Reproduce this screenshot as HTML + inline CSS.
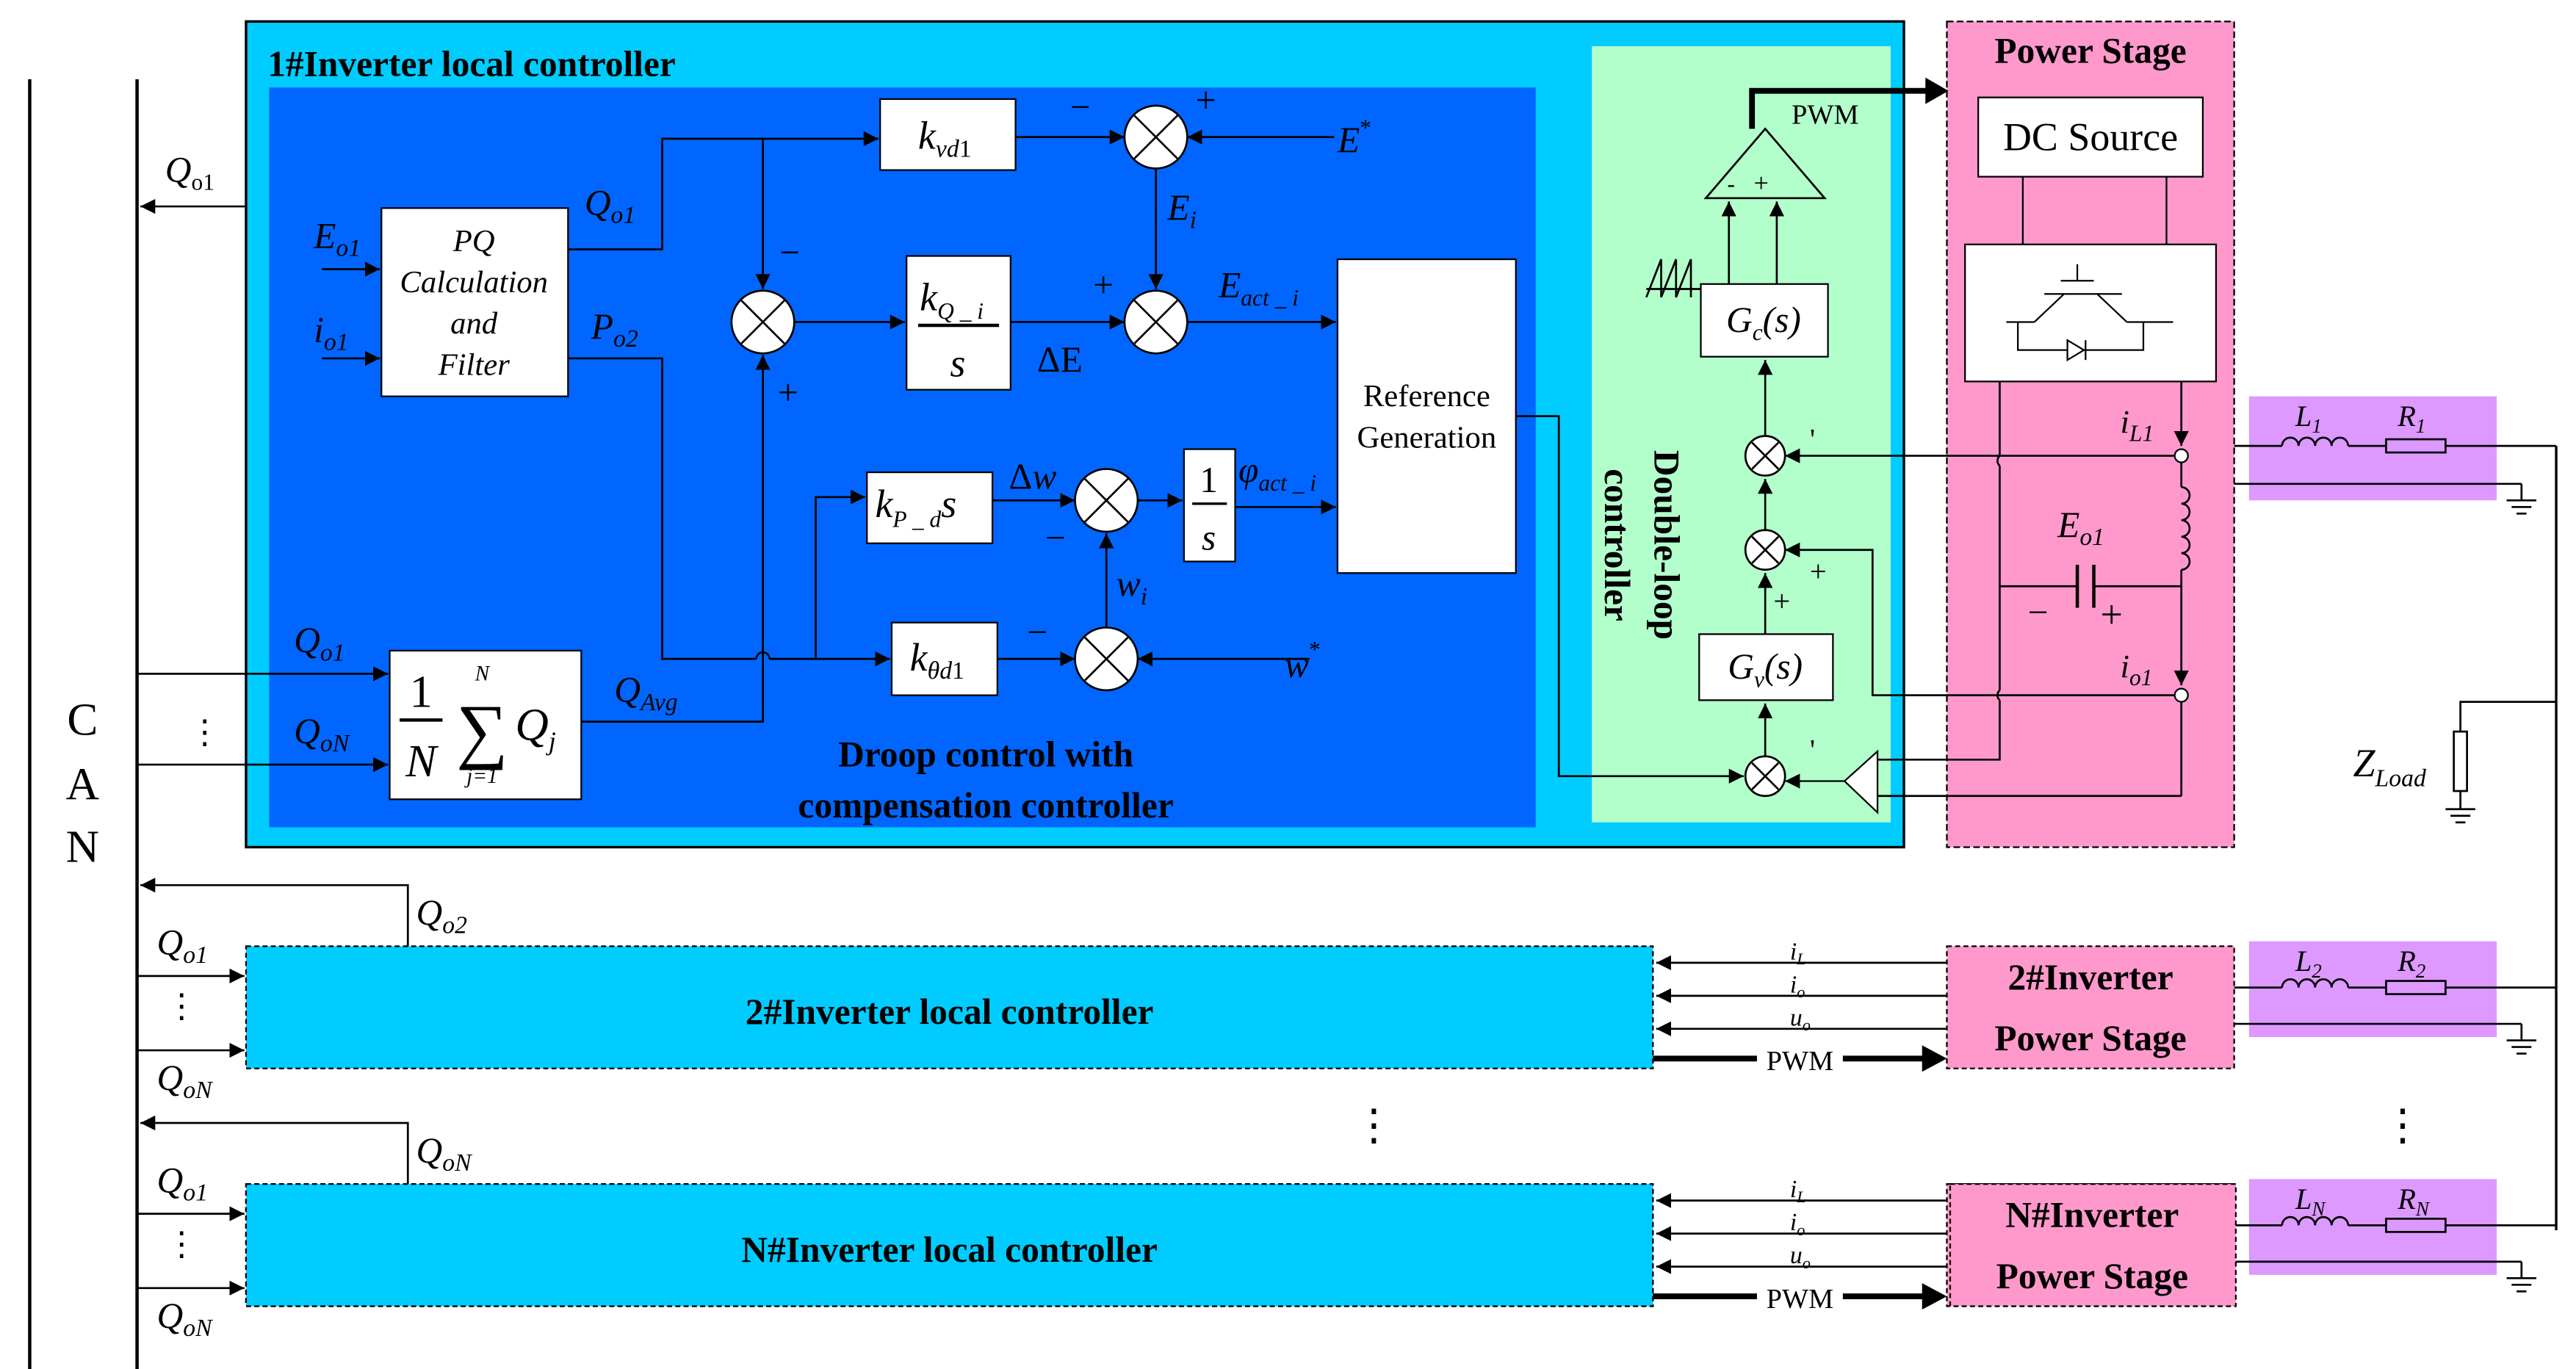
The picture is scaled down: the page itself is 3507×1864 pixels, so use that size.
<!DOCTYPE html>
<html><head><meta charset="utf-8"><style>
html,body{margin:0;padding:0;background:#fff;}
svg{display:block;}
text{font-family:"Liberation Serif",serif;fill:#000;}
.it{font-style:italic;}
.b{font-weight:bold;}
</style></head><body>
<svg width="3507" height="1864" viewBox="0 0 1560 829" preserveAspectRatio="none" xmlns="http://www.w3.org/2000/svg">
<defs>
<marker id="a" viewBox="0 0 10 10" refX="10" refY="5" markerWidth="9" markerHeight="9" markerUnits="userSpaceOnUse" orient="auto"><path d="M0,0 L10,5 L0,10 z" fill="#000"/></marker>
<marker id="ab" viewBox="0 0 10 10" refX="10" refY="5" markerWidth="6" markerHeight="6" orient="auto"><path d="M0,0 L10,5 L0,10 z" fill="#000"/></marker>
</defs>
<!-- CAN -->
<line x1="18" y1="48" x2="18" y2="829" stroke="#000" stroke-width="2"/>
<line x1="83" y1="48" x2="83" y2="829" stroke="#000" stroke-width="2"/>
<text x="50" y="445" font-size="28" text-anchor="middle">C</text>
<text x="50" y="484" font-size="28" text-anchor="middle">A</text>
<text x="50" y="522" font-size="28" text-anchor="middle">N</text>

<!-- Box 1 -->
<rect x="149" y="13" width="1004" height="500" fill="#00CCFF" stroke="#000" stroke-width="1.5"/>
<text x="162" y="46" font-size="22" class="b">1#Inverter local controller</text>
<rect x="163" y="53" width="767" height="448" fill="#0066FF"/>
<rect x="964" y="28" width="181" height="470" fill="#B3FFCC"/>
<!-- Power stage -->
<rect x="1179" y="13" width="174" height="500" fill="#FF99CC" stroke="#000" stroke-width="1" stroke-dasharray="4,2"/>
<text x="1266" y="38" font-size="22" class="b" text-anchor="middle">Power Stage</text>
<rect x="1198" y="59" width="136" height="48" fill="#fff" stroke="#000"/>
<text x="1266" y="91" font-size="24" text-anchor="middle">DC Source</text>
<line x1="1225" y1="107" x2="1225" y2="148" stroke="#000"/>
<line x1="1312" y1="107" x2="1312" y2="148" stroke="#000"/>
<rect x="1190" y="148" width="152" height="83" fill="#fff" stroke="#000"/>
<g stroke="#000" fill="none">
<line x1="1258" y1="160" x2="1258" y2="170"/><line x1="1248" y1="170" x2="1268" y2="170"/>
<line x1="1238" y1="178" x2="1285" y2="178"/>
<line x1="1250" y1="178" x2="1232" y2="195"/><line x1="1270" y1="178" x2="1288" y2="195"/>
<line x1="1215" y1="195" x2="1232" y2="195"/><line x1="1288" y1="195" x2="1316" y2="195"/>
<polyline points="1222,195 1222,212 1298,212 1298,195"/>
<path d="M1252,206 L1262,212 L1252,218 z" fill="#fff"/><line x1="1263" y1="206" x2="1263" y2="218"/>
</g>
<g stroke="#000" fill="none" stroke-width="1.2">
<polyline points="1211,231 1211,276"/>
<path d="M1211,276 a4,4 0 0 0 0,6"/>
<polyline points="1211,282 1211,418"/>
<path d="M1211,418 a4,4 0 0 0 0,6"/>
<polyline points="1211,424 1211,460 1137,460"/>
<line x1="1321" y1="231" x2="1321" y2="270" marker-end="url(#a)"/>
<line x1="1321" y1="280" x2="1321" y2="295"/>
<path d="M1321,295 a5,5 0 0 1 0,10 a5,5 0 0 1 0,10 a5,5 0 0 1 0,10 a5,5 0 0 1 0,10 a5,5 0 0 1 0,10"/>
<line x1="1321" y1="345" x2="1321" y2="415" marker-end="url(#a)"/>
<line x1="1321" y1="425" x2="1321" y2="482"/>
<line x1="1321" y1="482" x2="1137" y2="482"/>
<line x1="1211" y1="355" x2="1258" y2="355"/><line x1="1268" y1="355" x2="1321" y2="355"/>
<line x1="1258" y1="342" x2="1258" y2="368" stroke-width="2"/><line x1="1268" y1="342" x2="1268" y2="368" stroke-width="2"/>
<line x1="1317" y1="276" x2="1081" y2="276" marker-end="url(#a)"/>
<polyline points="1317,421 1134,421 1134,333 1081,333" marker-end="url(#a)"/>
</g>
<circle cx="1321" cy="276" r="4" fill="#fff" stroke="#000"/>
<circle cx="1321" cy="421" r="4" fill="#fff" stroke="#000"/>
<text x="1284" y="262" font-size="20" class="it">i<tspan font-size="14" dy="5">L1</tspan></text>
<text x="1284" y="410" font-size="20" class="it">i<tspan font-size="14" dy="5">o1</tspan></text>
<text x="1246" y="325" font-size="22" class="it">E<tspan font-size="15" dy="5">o1</tspan></text>
<text x="1228" y="378" font-size="22">−</text><text x="1272" y="380" font-size="24">+</text>
<!-- buffer triangle -->
<path d="M1137,455 L1137,492 L1117,473 z" fill="#fff" stroke="#000"/>
<line x1="1117" y1="473" x2="1081" y2="473" stroke="#000" marker-end="url(#a)"/>

<!-- purple 1 -->
<rect x="1362" y="240" width="150" height="63" fill="#DD99FF"/>
<g stroke="#000" fill="none" stroke-width="1.2">
<line x1="1353" y1="270" x2="1382" y2="270"/>
<path d="M1382,270 a5,5 0 0 1 10,0 a5,5 0 0 1 10,0 a5,5 0 0 1 10,0 a5,5 0 0 1 10,0"/>
<line x1="1422" y1="270" x2="1445" y2="270"/>
<rect x="1445" y="266" width="36" height="8" fill="none"/>
<line x1="1481" y1="270" x2="1548" y2="270"/>
<line x1="1353" y1="293" x2="1527" y2="293"/><line x1="1527" y1="293" x2="1527" y2="303"/>
<line x1="1518" y1="303" x2="1536" y2="303"/><line x1="1521" y1="307" x2="1533" y2="307"/><line x1="1524" y1="311" x2="1530" y2="311"/>
<line x1="1548" y1="270" x2="1548" y2="745" stroke-width="1.5"/>
<polyline points="1548,425 1490,425 1490,443"/>
<rect x="1486" y="443" width="8" height="36"/>
<line x1="1490" y1="479" x2="1490" y2="490"/>
<line x1="1481" y1="490" x2="1499" y2="490"/><line x1="1484" y1="494" x2="1496" y2="494"/><line x1="1487" y1="498" x2="1493" y2="498"/>
</g>
<text x="1390" y="258" font-size="18" class="it">L<tspan font-size="12" dy="4">1</tspan></text>
<text x="1452" y="258" font-size="18" class="it">R<tspan font-size="12" dy="4">1</tspan></text>
<text x="1425" y="470" font-size="24" class="it">Z<tspan font-size="15" dy="6">Load</tspan></text>

<!-- green internals -->
<g stroke="#000" fill="none" stroke-width="1.2">
<path d="M1069,78 L1105,120 L1033,120 z" fill="#B3FFCC"/>
<polyline points="997,175 1047,175 1047,122" marker-end="url(#a)"/>
<polyline points="997,180 1006,157 1006,180 1015,157 1015,180 1024,157 1024,180"/>
<line x1="1076" y1="172" x2="1076" y2="122" marker-end="url(#a)"/>
<line x1="1069" y1="264" x2="1069" y2="218" marker-end="url(#a)"/>
<line x1="1069" y1="321" x2="1069" y2="290" marker-end="url(#a)"/>
<line x1="1069" y1="384" x2="1069" y2="347" marker-end="url(#a)"/>
<line x1="1069" y1="458" x2="1069" y2="426" marker-end="url(#a)"/>
</g>
<polyline points="1061,78 1061,55 1170,55" fill="none" stroke="#000" stroke-width="3.5"/>
<path d="M1166,47 L1180,55 L1166,63 z" fill="#000"/>
<text x="1085" y="75" font-size="17">PWM</text>
<text x="1046" y="116" font-size="14">-</text><text x="1062" y="116" font-size="16">+</text>
<rect x="1030" y="172" width="77" height="44" fill="#fff" stroke="#000"/>
<text x="1068" y="201" font-size="22" class="it" text-anchor="middle">G<tspan font-size="14" dy="5">c</tspan><tspan dy="-5">(s)</tspan></text>
<rect x="1029" y="384" width="81" height="40" fill="#fff" stroke="#000"/>
<text x="1069" y="411" font-size="22" class="it" text-anchor="middle">G<tspan font-size="14" dy="5">v</tspan><tspan dy="-5">(s)</tspan></text>
<g fill="#fff" stroke="#000" stroke-width="1.2">
<circle cx="1069" cy="276" r="12"/><circle cx="1069" cy="333" r="12"/><circle cx="1069" cy="470" r="12"/>
</g>
<g stroke="#000" stroke-width="1.2">
<path d="M1061,268 l16,16 M1077,268 l-16,16"/><path d="M1061,325 l16,16 M1077,325 l-16,16"/><path d="M1061,462 l16,16 M1077,462 l-16,16"/>
</g>
<text x="1096" y="272" font-size="18">'</text><text x="1096" y="460" font-size="18">'</text>
<text x="1096" y="352" font-size="18">+</text><text x="1074" y="370" font-size="18">+</text>
<text transform="translate(1002,330) rotate(90)" font-size="22" class="b" text-anchor="middle">Double-loop</text>
<text transform="translate(972,330) rotate(90)" font-size="22" class="b" text-anchor="middle">controller</text>

<!-- blue internals -->
<g stroke="#000" fill="none" stroke-width="1.2">
<line x1="149" y1="125" x2="85" y2="125" marker-end="url(#a)"/>
<line x1="195" y1="163" x2="230" y2="163" marker-end="url(#a)"/>
<line x1="195" y1="217" x2="230" y2="217" marker-end="url(#a)"/>
<polyline points="344,151 401,151 401,84 532,84" marker-end="url(#a)"/>
<line x1="462" y1="84" x2="462" y2="175" marker-end="url(#a)"/>
<line x1="481" y1="195" x2="548" y2="195" marker-end="url(#a)"/>
<line x1="612" y1="195" x2="681" y2="195" marker-end="url(#a)"/>
<line x1="615" y1="83" x2="681" y2="83" marker-end="url(#a)"/>
<line x1="808" y1="83" x2="719" y2="83" marker-end="url(#a)"/>
<line x1="700" y1="102" x2="700" y2="175" marker-end="url(#a)"/>
<line x1="719" y1="195" x2="809" y2="195" marker-end="url(#a)"/>
<polyline points="918,252 944,252 944,470 1056,470" marker-end="url(#a)"/>
<polyline points="344,217 401,217 401,399 458,399"/>
<path d="M458,399 a4,4 0 0 1 8,0"/>
<line x1="466" y1="399" x2="539" y2="399" marker-end="url(#a)"/>
<polyline points="494,399 494,301 524,301" marker-end="url(#a)"/>
<line x1="601" y1="303" x2="651" y2="303" marker-end="url(#a)"/>
<line x1="689" y1="303" x2="716" y2="303" marker-end="url(#a)"/>
<line x1="748" y1="307" x2="809" y2="307" marker-end="url(#a)"/>
<line x1="604" y1="399" x2="651" y2="399" marker-end="url(#a)"/>
<line x1="793" y1="399" x2="689" y2="399" marker-end="url(#a)"/>
<line x1="670" y1="380" x2="670" y2="323" marker-end="url(#a)"/>
<line x1="83" y1="408" x2="235" y2="408" marker-end="url(#a)"/>
<line x1="83" y1="463" x2="235" y2="463" marker-end="url(#a)"/>
<polyline points="352,437 462,437 462,215" marker-end="url(#a)"/>
</g>
<rect x="231" y="126" width="113" height="114" fill="#fff" stroke="#000"/>
<g font-size="19" class="it" text-anchor="middle">
<text x="287" y="152">PQ</text><text x="287" y="177">Calculation</text><text x="287" y="202">and</text><text x="287" y="227">Filter</text>
</g>
<rect x="533" y="60" width="82" height="43" fill="#fff" stroke="#000"/>
<text x="556" y="90" font-size="24" class="it">k<tspan font-size="15" dy="5">vd</tspan><tspan font-size="15" font-style="normal">1</tspan></text>
<rect x="549" y="155" width="63" height="81" fill="#fff" stroke="#000"/>
<text x="557" y="188" font-size="24" class="it">k<tspan font-size="14" dy="5">Q _ i</tspan></text>
<line x1="556" y1="197" x2="605" y2="197" stroke="#000" stroke-width="2"/>
<text x="580" y="228" font-size="24" class="it" text-anchor="middle">s</text>
<rect x="810" y="157" width="108" height="190" fill="#fff" stroke="#000"/>
<text x="864" y="246" font-size="19" text-anchor="middle">Reference</text>
<text x="864" y="271" font-size="19" text-anchor="middle">Generation</text>
<rect x="525" y="286" width="76" height="43" fill="#fff" stroke="#000"/>
<text x="530" y="313" font-size="24" class="it">k<tspan font-size="14" dy="6">P _ d</tspan><tspan dy="-6">s</tspan></text>
<rect x="717" y="272" width="31" height="68" fill="#fff" stroke="#000"/>
<text x="732" y="298" font-size="22" text-anchor="middle">1</text>
<line x1="722" y1="305" x2="743" y2="305" stroke="#000" stroke-width="1.5"/>
<text x="732" y="333" font-size="22" class="it" text-anchor="middle">s</text>
<rect x="540" y="377" width="64" height="44" fill="#fff" stroke="#000"/>
<text x="551" y="406" font-size="24" class="it">k<tspan font-size="15" dy="5">θd</tspan><tspan font-size="15" font-style="normal">1</tspan></text>
<rect x="236" y="394" width="116" height="90" fill="#fff" stroke="#000"/>
<text x="255" y="428" font-size="28" text-anchor="middle">1</text>
<line x1="242" y1="436" x2="268" y2="436" stroke="#000" stroke-width="2"/>
<text x="255" y="470" font-size="28" class="it" text-anchor="middle">N</text>
<text x="292" y="457" font-size="44" text-anchor="middle">∑</text>
<text x="292" y="412" font-size="13" class="it" text-anchor="middle">N</text>
<text x="292" y="474" font-size="13" class="it" text-anchor="middle">j=1</text>
<text x="312" y="448" font-size="28" class="it">Q<tspan font-size="16" dy="6">j</tspan></text>
<g fill="#fff" stroke="#000" stroke-width="1.2">
<circle cx="462" cy="195" r="19"/><circle cx="700" cy="83" r="19"/><circle cx="700" cy="195" r="19"/>
<circle cx="670" cy="303" r="19"/><circle cx="670" cy="399" r="19"/>
</g>
<g stroke="#000" stroke-width="1.2">
<path d="M449,182 l26,26 M475,182 l-26,26"/><path d="M687,70 l26,26 M713,70 l-26,26"/><path d="M687,182 l26,26 M713,182 l-26,26"/>
<path d="M657,290 l26,26 M683,290 l-26,26"/><path d="M657,386 l26,26 M683,386 l-26,26"/>
</g>
<g font-size="22">
<text x="472" y="160">−</text><text x="471" y="245">+</text><text x="648" y="72">−</text><text x="724" y="68">+</text>
<text x="662" y="180">+</text><text x="633" y="333">−</text><text x="622" y="390">−</text>
</g>
<g font-size="22" class="it">
<text x="100" y="110">Q<tspan font-size="14" dy="5" font-style="normal">o</tspan><tspan font-size="14" font-style="normal">1</tspan></text>
<text x="190" y="150">E<tspan font-size="15" dy="5">o1</tspan></text>
<text x="190" y="207">i<tspan font-size="15" dy="5">o1</tspan></text>
<text x="354" y="130">Q<tspan font-size="15" dy="5">o1</tspan></text>
<text x="358" y="205">P<tspan font-size="15" dy="5">o2</tspan></text>
<text x="810" y="92">E<tspan font-size="14" dy="-10" font-style="normal">*</tspan></text>
<text x="707" y="133">E<tspan font-size="15" dy="5">i</tspan></text>
<text x="738" y="180">E<tspan font-size="14" dy="5">act _ i</tspan></text>
<text x="628" y="225" font-style="normal">ΔE</text>
<text x="611" y="296" font-style="normal">Δ<tspan font-style="italic">w</tspan></text>
<text x="750" y="292">φ<tspan font-size="14" dy="5">act _ i</tspan></text>
<text x="676" y="361">w<tspan font-size="15" dy="5">i</tspan></text>
<text x="778" y="410">w<tspan font-size="14" dy="-12" font-style="normal">*</tspan></text>
<text x="178" y="395">Q<tspan font-size="15" dy="5">o1</tspan></text>
<text x="178" y="450">Q<tspan font-size="15" dy="5">oN</tspan></text>
<text x="372" y="425">Q<tspan font-size="15" dy="5">Avg</tspan></text>
</g>
<text x="124" y="450" font-size="20" text-anchor="middle">⋮</text>
<text x="597" y="464" font-size="22" class="b" text-anchor="middle">Droop control with</text>
<text x="597" y="495" font-size="22" class="b" text-anchor="middle">compensation controller</text>

<!-- rows 2 and N -->
<g id="row">
<rect x="149" y="573" width="852" height="74" fill="#00CCFF" stroke="#000" stroke-width="1" stroke-dasharray="3,2"/>
<rect x="1179" y="573" width="174" height="74" fill="#FF99CC" stroke="#000" stroke-width="1" stroke-dasharray="3,2"/>
<rect x="1362" y="570" width="150" height="58" fill="#DD99FF"/>
<g stroke="#000" fill="none" stroke-width="1.2">
<line x1="1179" y1="583" x2="1003" y2="583" marker-end="url(#a)"/>
<line x1="1179" y1="603" x2="1003" y2="603" marker-end="url(#a)"/>
<line x1="1179" y1="623" x2="1003" y2="623" marker-end="url(#a)"/>
<polyline points="247,573 247,536 85,536" marker-end="url(#a)"/>
<line x1="83" y1="591" x2="148" y2="591" marker-end="url(#a)"/>
<line x1="83" y1="636" x2="148" y2="636" marker-end="url(#a)"/>
<line x1="1353" y1="598" x2="1382" y2="598"/>
<path d="M1382,598 a5,5 0 0 1 10,0 a5,5 0 0 1 10,0 a5,5 0 0 1 10,0 a5,5 0 0 1 10,0"/>
<line x1="1422" y1="598" x2="1445" y2="598"/>
<rect x="1445" y="594" width="36" height="8"/>
<line x1="1481" y1="598" x2="1548" y2="598"/>
<line x1="1353" y1="620" x2="1527" y2="620"/><line x1="1527" y1="620" x2="1527" y2="630"/>
<line x1="1518" y1="630" x2="1536" y2="630"/><line x1="1521" y1="634" x2="1533" y2="634"/><line x1="1524" y1="638" x2="1530" y2="638"/>
</g>
<line x1="1001" y1="641" x2="1064" y2="641" stroke="#000" stroke-width="3.5"/>
<line x1="1116" y1="641" x2="1166" y2="641" stroke="#000" stroke-width="3.5"/>
<path d="M1164,633 L1179,641 L1164,649 z" fill="#000"/>
<text x="1090" y="648" font-size="17" text-anchor="middle">PWM</text>
<g font-size="15" class="it">
<text x="1084" y="581">i<tspan font-size="10" dy="3">L</tspan></text>
<text x="1084" y="601">i<tspan font-size="10" dy="3">o</tspan></text>
<text x="1084" y="621">u<tspan font-size="10" dy="3">o</tspan></text>
</g>
<g font-size="22" class="it">
<text x="95" y="578">Q<tspan font-size="15" dy="5">o1</tspan></text>
<text x="95" y="660">Q<tspan font-size="15" dy="5">oN</tspan></text>
</g>
<text x="110" y="616" font-size="20" text-anchor="middle">⋮</text>
</g>
<text x="575" y="620" font-size="22" class="b" text-anchor="middle">2#Inverter local controller</text>
<text x="1266" y="599" font-size="22" class="b" text-anchor="middle">2#Inverter</text>
<text x="1266" y="636" font-size="22" class="b" text-anchor="middle">Power Stage</text>
<text x="252" y="560" font-size="22" class="it">Q<tspan font-size="15" dy="5">o2</tspan></text>
<text x="1390" y="588" font-size="18" class="it">L<tspan font-size="12" dy="4">2</tspan></text>
<text x="1452" y="588" font-size="18" class="it">R<tspan font-size="12" dy="4">2</tspan></text>

<use href="#row" transform="translate(0,144)"/>
<rect x="149" y="717" width="852" height="74" fill="#00CCFF" stroke="#000" stroke-width="1" stroke-dasharray="3,2"/>
<rect x="1181" y="717" width="173" height="74" fill="#FF99CC" stroke="#000" stroke-width="1" stroke-dasharray="3,2"/>
<text x="575" y="764" font-size="22" class="b" text-anchor="middle">N#Inverter local controller</text>
<text x="1267" y="743" font-size="22" class="b" text-anchor="middle">N#Inverter</text>
<text x="1267" y="780" font-size="22" class="b" text-anchor="middle">Power Stage</text>
<text x="252" y="704" font-size="22" class="it">Q<tspan font-size="15" dy="5">oN</tspan></text>
<rect x="1380" y="718" width="110" height="18" fill="#DD99FF"/>
<text x="1390" y="732" font-size="18" class="it">L<tspan font-size="12" dy="4">N</tspan></text>
<text x="1452" y="732" font-size="18" class="it">R<tspan font-size="12" dy="4">N</tspan></text>
<text x="832" y="690" font-size="26" text-anchor="middle">⋮</text>
<text x="1455" y="690" font-size="26" text-anchor="middle">⋮</text>
</svg>
</body></html>
